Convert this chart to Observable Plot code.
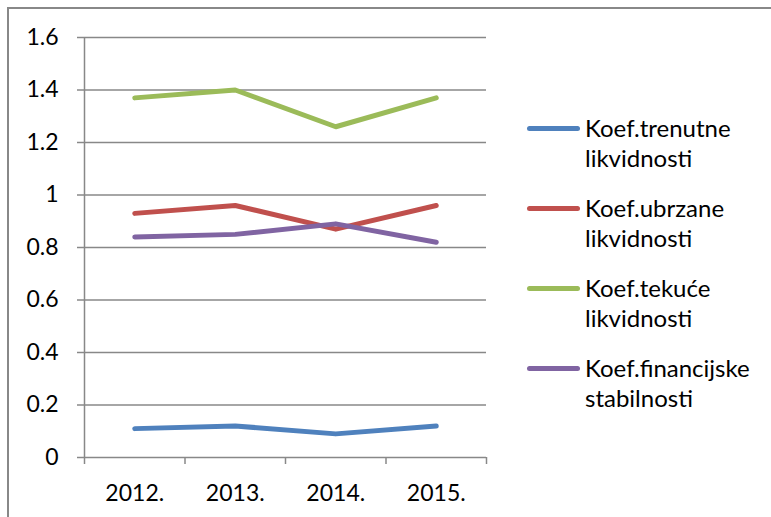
<!DOCTYPE html>
<html>
<head>
<meta charset="utf-8">
<script src="https://cdn.jsdelivr.net/npm/d3@7"></script>
<script src="https://cdn.jsdelivr.net/npm/@observablehq/plot@0.6"></script>
<style>
  html, body { margin: 0; padding: 0; background: #fff; }
  #wrap { position: relative; width: 771px; height: 517px; overflow: hidden; font-family: Lato, "Open Sans", sans-serif; }
  #chart { position: absolute; left: 0; top: 0; }
  .frame-top { position: absolute; left: 7px; top: 7px; right: 0; height: 0; border-top: 2px solid #888; }
  .frame-left { position: absolute; left: 7px; top: 7px; bottom: 0; width: 0; border-left: 2px solid #888; }
  .leg { position: absolute; left: 527px; font-size: 24px; line-height: 30px; color: #000; }
  .leg .sw { position: absolute; left: 0; top: 13px; width: 53px; height: 5px; border-radius: 3px; }
  .leg .tx { position: absolute; left: 58px; top: 0; white-space: nowrap; }
</style>
</head>
<body>
<div id="wrap">
  <div id="chart"></div>
  <div class="frame-top"></div>
  <div class="frame-left"></div>
</div>
<script>
const years = [2012, 2013, 2014, 2015];
const yearLabels = ["2012.", "2013.", "2014.", "2015."];
const seriesNames = ["Koef.trenutne likvidnosti", "Koef.ubrzane likvidnosti", "Koef.tekuće likvidnosti", "Koef.financijske stabilnosti"];
const trenutne = [0.11, 0.12, 0.09, 0.12];
const ubrzane = [0.93, 0.96, 0.87, 0.96];
const tekuce = [1.37, 1.40, 1.26, 1.37];
const financijske = [0.84, 0.85, 0.89, 0.82];
const seriesColors = ["#4F81BD", "#C0504D", "#9BBB59", "#8064A2"];
const yTicks = [0, 0.2, 0.4, 0.6, 0.8, 1, 1.2, 1.4, 1.6];

const seriesValues = [trenutne, ubrzane, tekuce, financijske];
const rows = [];
seriesNames.forEach((name, s) => {
  years.forEach((yr, i) => rows.push({series: name, year: yr, value: seriesValues[s][i]}));
});
const boundaries = [...years.map(y => y - 0.5), years[years.length - 1] + 0.5];
const grey = "#888888";

const plot = Plot.plot({
  width: 771,
  height: 517,
  marginLeft: 84,
  marginRight: 285,
  marginTop: 37,
  marginBottom: 60,
  style: {fontFamily: "Lato, 'Open Sans', sans-serif", fontSize: "23px", background: "transparent", color: "#000"},
  x: {type: "linear", domain: [boundaries[0], boundaries[boundaries.length - 1]]},
  y: {domain: [0, 1.6]},
  color: {domain: seriesNames, range: seriesColors},
  marks: [
    Plot.gridY(yTicks, {stroke: grey, strokeOpacity: 1, strokeWidth: 1.5}),
    Plot.axisY(yTicks, {tickSize: 7, tickPadding: 19, stroke: grey, strokeWidth: 1.5, fill: "#000", fontSize: 23, tickFormat: d => String(d), label: null}),
    Plot.ruleX([boundaries[0]], {stroke: grey, strokeWidth: 1.5}),
    Plot.axisX(boundaries, {tickSize: 7, stroke: grey, strokeWidth: 1.5, tickFormat: () => "", label: null}),
    Plot.axisX(years, {tickSize: 0, tickPadding: 27, fill: "#000", fontSize: 23, tickFormat: (d) => yearLabels[years.indexOf(d)], label: null}),
    Plot.lineY(rows, {x: "year", y: "value", z: "series", stroke: "series", strokeWidth: 5, strokeLinecap: "round", strokeLinejoin: "round"})
  ]
});
document.getElementById("chart").appendChild(plot);

const wrap = document.getElementById("wrap");
seriesNames.forEach((name, i) => {
  const d = document.createElement("div");
  d.className = "leg";
  d.style.top = (113 + 80 * i) + "px";
  const sw = document.createElement("div");
  sw.className = "sw";
  sw.style.background = seriesColors[i];
  const tx = document.createElement("div");
  tx.className = "tx";
  tx.innerHTML = name.split(" ").join("<br>");
  d.appendChild(sw);
  d.appendChild(tx);
  wrap.appendChild(d);
});
</script>
</body>
</html>
